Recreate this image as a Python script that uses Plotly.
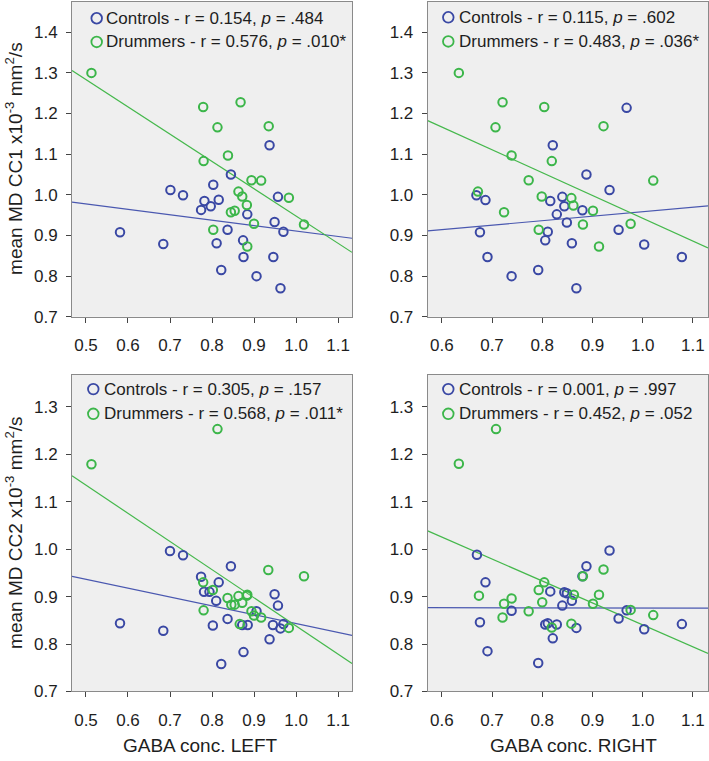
import numpy as np
import plotly.graph_objects as go

# ---------------- data ----------------
# Panel A: mean MD CC1 vs GABA conc. LEFT
a_ctrl_x = [0.937, 0.845, 0.803, 0.701, 0.731, 0.782, 0.816, 0.797, 0.774, 0.957, 0.884, 0.949,
            0.581, 0.837, 0.970, 0.684, 0.811, 0.874, 0.875, 0.946, 0.822, 0.906, 0.963]
a_ctrl_y = [1.122, 1.050, 1.025, 1.012, 0.999, 0.985, 0.988, 0.972, 0.963, 0.995, 0.952, 0.933,
            0.908, 0.914, 0.909, 0.879, 0.881, 0.888, 0.847, 0.847, 0.815, 0.800, 0.770]
a_drum_x = [0.513, 0.779, 0.868, 0.813, 0.935, 0.838, 0.780, 0.894, 0.917, 0.863, 0.872, 0.983,
            0.883, 0.845, 0.854, 0.900, 1.019, 0.803, 0.884]
a_drum_y = [1.300, 1.216, 1.228, 1.166, 1.169, 1.097, 1.083, 1.036, 1.035, 1.008, 0.996, 0.993,
            0.975, 0.957, 0.961, 0.929, 0.927, 0.914, 0.873]

# Panel B: mean MD CC1 vs GABA conc. RIGHT
b_ctrl_x = [0.968, 0.821, 0.888, 0.934, 0.669, 0.687, 0.840, 0.816, 0.844, 0.880, 0.829, 0.849,
            0.952, 0.676, 0.811, 0.806, 0.859, 1.003, 0.691, 1.078, 0.792, 0.739, 0.868]
b_ctrl_y = [1.214, 1.122, 1.050, 1.012, 0.999, 0.987, 0.995, 0.985, 0.972, 0.962, 0.952, 0.932,
            0.914, 0.908, 0.909, 0.888, 0.881, 0.878, 0.847, 0.847, 0.815, 0.800, 0.770]
b_drum_x = [0.634, 0.721, 0.804, 0.707, 0.922, 0.739, 0.819, 0.773, 1.021, 0.672, 0.799, 0.858,
            0.862, 0.901, 0.724, 0.881, 0.976, 0.793, 0.913]
b_drum_y = [1.300, 1.228, 1.216, 1.166, 1.169, 1.097, 1.083, 1.036, 1.035, 1.008, 0.996, 0.992,
            0.974, 0.961, 0.957, 0.927, 0.929, 0.914, 0.873]

# Panel C: mean MD CC2 vs GABA conc. LEFT
c_ctrl_x = [0.700, 0.731, 0.845, 0.774, 0.816, 0.781, 0.794, 0.810, 0.949, 0.957, 0.906, 0.837,
            0.581, 0.684, 0.802, 0.872, 0.885, 0.945, 0.970, 0.963, 0.937, 0.875, 0.822]
c_ctrl_y = [0.996, 0.987, 0.964, 0.942, 0.930, 0.910, 0.910, 0.891, 0.905, 0.881, 0.869, 0.853,
            0.844, 0.828, 0.839, 0.840, 0.840, 0.840, 0.842, 0.833, 0.810, 0.783, 0.758]
c_drum_x = [0.513, 0.813, 0.934, 1.019, 0.779, 0.802, 0.837, 0.863, 0.883, 0.884, 0.872, 0.846,
            0.854, 0.894, 0.900, 0.917, 0.780, 0.866, 0.983]
c_drum_y = [1.179, 1.253, 0.956, 0.943, 0.930, 0.914, 0.897, 0.901, 0.902, 0.904, 0.887, 0.883,
            0.883, 0.869, 0.860, 0.856, 0.871, 0.842, 0.834]

# Panel D: mean MD CC2 vs GABA conc. RIGHT
d_ctrl_x = [0.934, 0.670, 0.888, 0.880, 0.687, 0.816, 0.844, 0.849, 0.859, 0.840, 0.739, 0.968,
            0.952, 0.676, 0.806, 0.811, 0.829, 0.868, 1.003, 1.078, 0.821, 0.691, 0.792]
d_ctrl_y = [0.997, 0.988, 0.964, 0.943, 0.930, 0.911, 0.909, 0.907, 0.891, 0.881, 0.870, 0.871,
            0.854, 0.846, 0.841, 0.844, 0.841, 0.834, 0.831, 0.842, 0.812, 0.785, 0.760]
d_drum_x = [0.634, 0.708, 0.922, 0.881, 0.804, 0.793, 0.674, 0.739, 0.863, 0.913, 0.800, 0.724,
            0.901, 0.773, 0.976, 1.021, 0.721, 0.858, 0.819]
d_drum_y = [1.180, 1.253, 0.957, 0.943, 0.930, 0.914, 0.902, 0.896, 0.904, 0.904, 0.888, 0.885,
            0.885, 0.869, 0.872, 0.861, 0.856, 0.843, 0.835]

legend_ctrl = ["Controls - r = 0.154, <i>p</i> = .484", "Controls - r = 0.115, <i>p</i> = .602",
               "Controls - r = 0.305, <i>p</i> = .157", "Controls - r = 0.001, <i>p</i> = .997"]
legend_drum = ["Drummers - r = 0.576, <i>p</i> = .010*", "Drummers - r = 0.483, <i>p</i> = .036*",
               "Drummers - r = 0.568, <i>p</i> = .011*", "Drummers - r = 0.452, <i>p</i> = .052"]

y_titles = ["mean MD CC1 x10<sup>-3</sup> mm<sup>2</sup>/s", "mean MD CC2 x10<sup>-3</sup> mm<sup>2</sup>/s"]
x_titles = ["GABA conc. LEFT", "GABA conc. RIGHT"]

# ---------------- style / layout ----------------
W, H = 709, 761
FONT = "Liberation Sans, Arial, Helvetica, sans-serif"
BLUE = "#3a48a4"
GREEN = "#3cb64a"
BLUE_LINE = "#4a58b0"
GREEN_LINE = "#45b84c"
TXT = "#1e1e1e"

def px_x(p):
    return p / W

def px_y(p):
    return 1 - p / H

x_dom = {"L": [px_x(72), px_x(352)], "R": [px_x(427.7), px_x(708)]}
y_dom = {"T": [px_y(321), px_y(2)], "B": [px_y(700.7), px_y(380)]}
x_rng = {"L": [0.4667, 1.1333], "R": [0.572, 1.130]}
y_rng = {"T": [0.7, 1.4745], "B": [0.7, 1.367]}

panels = [
    dict(cx=a_ctrl_x, cy=a_ctrl_y, dx=a_drum_x, dy=a_drum_y, col="L", row="T"),
    dict(cx=b_ctrl_x, cy=b_ctrl_y, dx=b_drum_x, dy=b_drum_y, col="R", row="T"),
    dict(cx=c_ctrl_x, cy=c_ctrl_y, dx=c_drum_x, dy=c_drum_y, col="L", row="B"),
    dict(cx=d_ctrl_x, cy=d_ctrl_y, dx=d_drum_x, dy=d_drum_y, col="R", row="B"),
]

fig = go.Figure()
layout_axes = {}
for i, p in enumerate(panels):
    n = "" if i == 0 else str(i + 1)
    xa, ya = "x" + n, "y" + n
    xr = x_rng[p["col"]]
    # regression lines
    for xs, ys, col in [(p["cx"], p["cy"], BLUE_LINE), (p["dx"], p["dy"], GREEN_LINE)]:
        k, b = np.polyfit(xs, ys, 1)
        lx = np.array(xr)
        fig.add_trace(go.Scatter(x=lx, y=k * lx + b, mode="lines", xaxis=xa, yaxis=ya,
                                 line=dict(color=col, width=1.2), showlegend=False,
                                 hoverinfo="skip"))
    fig.add_trace(go.Scatter(x=p["cx"], y=p["cy"], mode="markers", xaxis=xa, yaxis=ya,
                             marker=dict(symbol="circle-open", size=8.5, color=BLUE,
                                         line=dict(width=2, color=BLUE)),
                             showlegend=False, name="Controls"))
    fig.add_trace(go.Scatter(x=p["dx"], y=p["dy"], mode="markers", xaxis=xa, yaxis=ya,
                             marker=dict(symbol="circle-open", size=8.5, color=GREEN,
                                         line=dict(width=2, color=GREEN)),
                             showlegend=False, name="Drummers"))
    common = dict(showline=True, linecolor="#8a8a8a", linewidth=1, mirror=True,
                  ticks="outside", ticklen=5, tickcolor="#444", tickwidth=1,
                  showgrid=False, zeroline=False, dtick=0.1, tickformat=".1f",
                  tickfont=dict(family=FONT, size=17, color=TXT))
    layout_axes["xaxis" + n] = dict(common, domain=x_dom[p["col"]], range=xr, anchor=ya,
                                    tick0=0.5, ticklabelstandoff=8)
    layout_axes["yaxis" + n] = dict(common, domain=y_dom[p["row"]], range=y_rng[p["row"]],
                                    anchor=xa, tick0=0.7, ticklabelstandoff=5)

fig.update_layout(**layout_axes)

# legends (custom, inside each panel)
leg_pos = [  # marker x, text x, row1 y, row2 y  (pixels)
    (96.7, 104, 18.5, 42.5),
    (448.3, 457, 17.5, 42),
    (93.3, 102, 394.3, 419.3),
    (448.3, 457, 394.3, 419.3),
]
annotations = []
shapes = []
for i, (mx, tx, y1, y2) in enumerate(leg_pos):
    for txt, yy, col in [(legend_ctrl[i], y1, BLUE), (legend_drum[i], y2, GREEN)]:
        annotations.append(dict(text=txt, x=px_x(tx), y=px_y(yy), xref="paper", yref="paper",
                                xanchor="left", yanchor="middle", showarrow=False,
                                font=dict(family=FONT, size=17, color=TXT)))
        shapes.append(dict(type="circle", xref="paper", yref="paper",
                           xsizemode="pixel", ysizemode="pixel",
                           xanchor=px_x(mx), yanchor=px_y(yy),
                           x0=-5.3, x1=5.3, y0=-5.3, y1=5.3,
                           line=dict(color=col, width=1.8)))

# axis titles
for j, yc in enumerate([161, 540]):
    annotations.append(dict(text=y_titles[j], x=px_x(14), y=px_y(yc), xref="paper", yref="paper",
                            xanchor="center", yanchor="middle", textangle=-90, showarrow=False,
                            font=dict(family=FONT, size=19, color=TXT)))
for j, xc in enumerate([200, 573]):
    annotations.append(dict(text=x_titles[j], x=px_x(xc), y=px_y(755.5), xref="paper", yref="paper",
                            xanchor="center", yanchor="middle", showarrow=False,
                            font=dict(family=FONT, size=19, color=TXT)))

fig.update_layout(
    width=W, height=H, autosize=False,
    margin=dict(l=0, r=0, t=0, b=0),
    paper_bgcolor="white", plot_bgcolor="#efefef",
    font=dict(family=FONT, color=TXT),
    annotations=annotations, shapes=shapes,
    showlegend=False,
)

fig.write_html("out.html", config={"displayModeBar": False},
               post_script="document.body.style.margin='0';")
